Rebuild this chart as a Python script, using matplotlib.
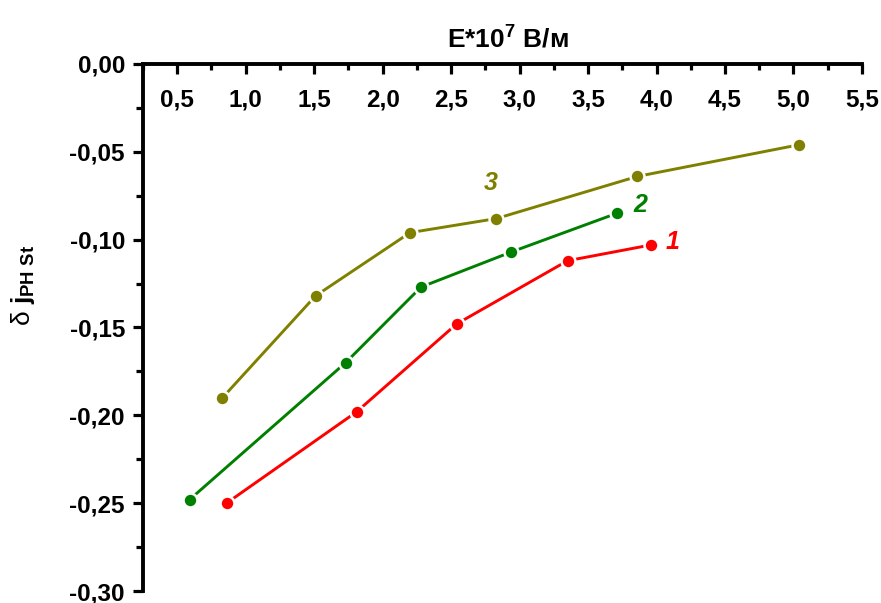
import matplotlib
matplotlib.use('Agg')
import matplotlib.pyplot as plt
from matplotlib.ticker import MultipleLocator, FuncFormatter

plt.rcParams['font.family'] = ['Liberation Sans', 'DejaVu Sans']
plt.rcParams['font.weight'] = 'bold'
plt.rcParams['mathtext.fontset'] = 'custom'
plt.rcParams['mathtext.rm'] = 'Liberation Sans'
plt.rcParams['mathtext.it'] = 'Liberation Sans:italic'
plt.rcParams['mathtext.bf'] = 'Liberation Sans:bold'

# E*10^7 V/m vs delta j for three samples
x1 = [0.86, 1.81, 2.54, 3.35, 3.96]
y1 = [-0.250, -0.198, -0.148, -0.112, -0.103]
x2 = [0.59, 1.73, 2.28, 2.94, 3.71]
y2 = [-0.248, -0.170, -0.127, -0.107, -0.085]
x3 = [0.83, 1.51, 2.20, 2.83, 3.86, 5.04]
y3 = [-0.190, -0.132, -0.096, -0.088, -0.064, -0.046]

labels = ['1', '2', '3']
colors = ['#ff0000', '#008000', '#808000']

fig = plt.figure(figsize=(8.81, 6.03), dpi=100)
ax = fig.add_axes([0.1623, 0.0199, 0.8161, 0.874])

for xs, ys, c in zip([x1, x2, x3], [y1, y2, y3], colors):
    ax.plot(xs, ys, color=c, lw=2.1, marker='o', ms=10, mfc=c,
            mec='white', mew=1.8)

# curve numbers
ax.text(4.12, -0.1015, labels[0], color=colors[0], fontsize=18,
        style='italic', ha='center', va='center')
ax.text(3.88, -0.0805, labels[1], color=colors[1], fontsize=18,
        style='italic', ha='center', va='center')
ax.text(2.79, -0.0675, labels[2], color=colors[2], fontsize=18,
        style='italic', ha='center', va='center')

ax.set_xlim(0.25, 5.5)
ax.set_ylim(-0.30, 0.0)

for s in ['right', 'bottom']:
    ax.spines[s].set_visible(False)
for s in ['left', 'top']:
    ax.spines[s].set_linewidth(2.8)

comma = FuncFormatter(lambda v, p: f'{v:.1f}'.replace('.', ','))
comma_y = FuncFormatter(lambda v, p: f'{v:.2f}'.replace('.', ',').replace('-0,00', '0,00'))

ax.xaxis.set_major_locator(MultipleLocator(0.5))
ax.xaxis.set_minor_locator(MultipleLocator(0.25))
ax.xaxis.set_major_formatter(comma)
ax.yaxis.set_major_locator(MultipleLocator(0.05))
ax.yaxis.set_minor_locator(MultipleLocator(0.025))
ax.yaxis.set_major_formatter(comma_y)

ax.xaxis.tick_top()
ax.tick_params(axis='x', which='both', direction='in', width=2.3,
               labelsize=17.5, pad=-34)
ax.tick_params(axis='x', which='major', length=7)
ax.tick_params(axis='x', which='minor', length=4)
ax.tick_params(axis='y', which='both', direction='out', width=2.3,
               labelsize=17.5, pad=6)
ax.tick_params(axis='y', which='major', length=7)
ax.tick_params(axis='y', which='minor', length=5)
ax.tick_params(axis='y', which='both', right=False)
for t in ax.get_xticklabels() + ax.get_yticklabels():
    t.set_fontweight('bold')

fig.text(0.576, 0.935, r'E*10$^{\mathbf{7}}$ В/м', fontsize=19,
         fontweight='bold', ha='center', va='center')
fig.text(0.026, 0.527, r'δ $\mathbf{j}_{\mathbf{PH\ St}}$', fontsize=19,
         fontweight='normal', rotation=90, ha='center', va='center')

fig.savefig('out.png', dpi=100)
